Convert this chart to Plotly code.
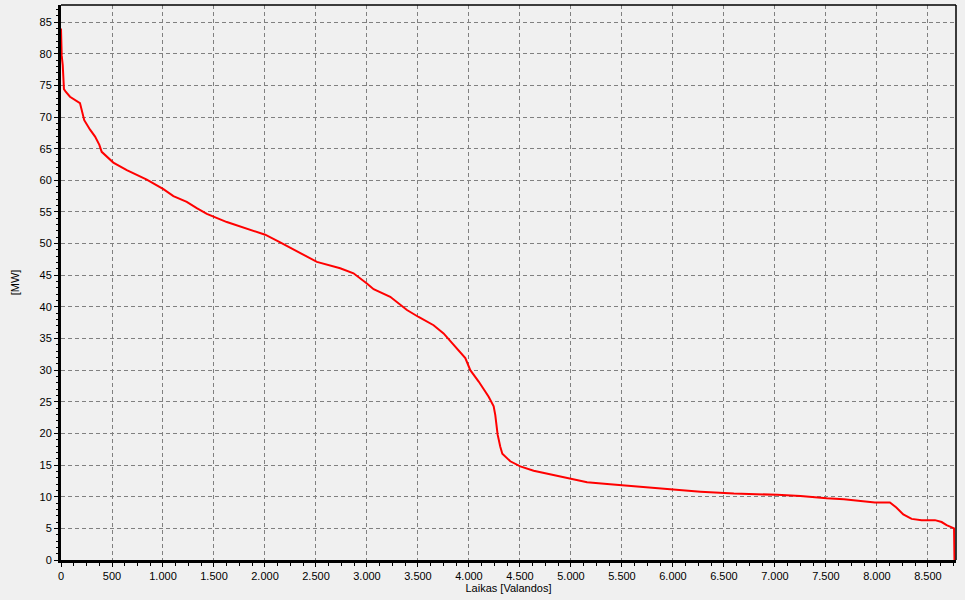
import plotly.graph_objects as go

# Load duration curve: hours (sorted) vs. power [MW]
hours = [0, 7, 17, 23, 29, 46, 88, 186, 203, 220, 228, 285, 334, 376, 399,
         513, 645, 841, 1004, 1102, 1233, 1331, 1430, 1626, 1822, 2002,
         2149, 2345, 2509, 2737, 2868, 2999, 3065, 3228, 3392, 3506, 3588,
         3653, 3751, 3849, 3964, 4013, 4095, 4193, 4242, 4258, 4281, 4307,
         4327, 4405, 4503, 4634, 4798, 4962, 5158, 5354, 5616, 5943, 6270,
         6597, 7022, 7250, 7507, 7676, 7980, 8127, 8190, 8258, 8340, 8438,
         8569, 8634, 8683, 8748, 8756, 8760]
power = [84.0, 79.7, 78.2, 75.6, 74.4, 74.0, 73.2, 72.2, 71.1, 70.3, 69.5,
         68.0, 66.9, 65.6, 64.5,
         62.8, 61.6, 60.1, 58.6, 57.5, 56.6, 55.6, 54.7, 53.4, 52.3, 51.4,
         50.2, 48.5, 47.1, 46.1, 45.3, 43.7, 42.8, 41.6, 39.5, 38.4, 37.7,
         37.1, 35.8, 34.0, 31.9, 30.0, 28.2, 25.8, 24.3, 22.9, 19.8, 17.9,
         16.8, 15.6, 14.8, 14.1, 13.5, 12.9, 12.3, 12.0, 11.6, 11.2, 10.8,
         10.5, 10.3, 10.1, 9.75, 9.6, 9.1, 9.1,
         8.3, 7.2, 6.5, 6.3, 6.3, 6.0, 5.5, 5.1, 5.0, 0.0]

x_ticks = list(range(0, 8501, 500))
y_ticks = list(range(0, 86, 5))

fig = go.Figure()
fig.add_trace(go.Scatter(x=hours, y=power, mode="lines",
                         line=dict(color="#ff0000", width=2),
                         showlegend=False, hoverinfo="x+y", cliponaxis=False))

font = dict(family="Liberation Sans, Arial, sans-serif", size=11, color="#000000")

fig.update_layout(
    width=965, height=600,
    margin=dict(l=61, r=9, t=5, b=40),
    paper_bgcolor="#f0f0f0", plot_bgcolor="#f0f0f0",
    separators=",.",
    font=font,
    xaxis=dict(
        range=[0, 8775], tickvals=x_ticks, tickformat=",d",
        showgrid=True, gridcolor="#808080", gridwidth=1, griddash="4px,3px",
        showline=True, linecolor="#000000", linewidth=3,
        ticks="outside", ticklen=4, tickcolor="#000000",
        minor=dict(dtick=125, tick0=0, ticks="outside", ticklen=3,
                   tickcolor="#000000", showgrid=False),
        zeroline=False, automargin=False,
        title=dict(text="Laikas [Valandos]", font=font, standoff=2),
        tickfont=font,
    ),
    yaxis=dict(
        range=[0, 87.7], tickvals=y_ticks,
        showgrid=True, gridcolor="#808080", gridwidth=1, griddash="4px,3px",
        showline=True, linecolor="#000000", linewidth=3,
        ticks="outside", ticklen=4, tickcolor="#000000",
        minor=dict(dtick=1, tick0=0, ticks="outside", ticklen=2,
                   tickcolor="#000000", showgrid=False),
        zeroline=False, automargin=False,
        title=dict(text="[MW]", font=font, standoff=18),
        tickfont=font,
    ),
    shapes=[
        dict(type="line", xref="paper", yref="paper", x0=0, x1=1, y0=1, y1=1,
             line=dict(color="#000000", width=1.5)),
        dict(type="line", xref="paper", yref="paper", x0=1, x1=1, y0=0, y1=1,
             line=dict(color="#000000", width=1.5)),
    ],
)

fig.write_html("out.html",
               config={"displayModeBar": False},
               post_script="document.body.style.margin='0';document.body.style.background='#f0f0f0';")
